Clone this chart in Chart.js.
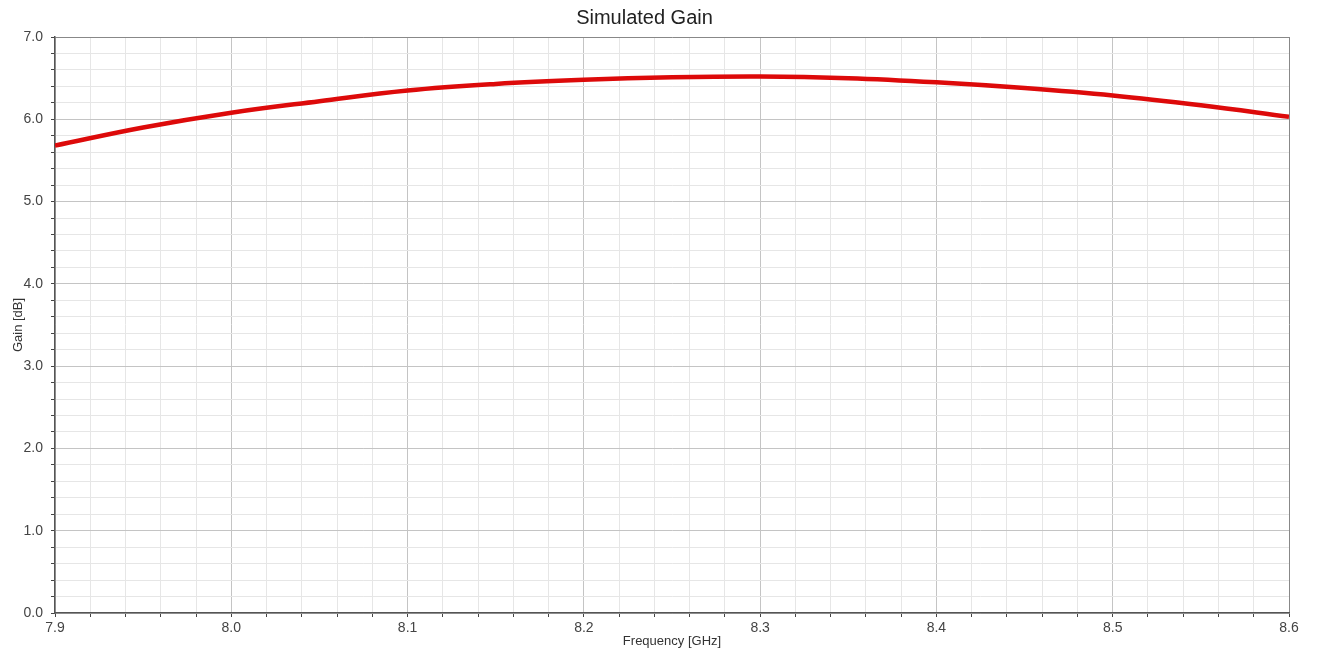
<!DOCTYPE html>
<html>
<head>
<meta charset="utf-8">
<script src="https://cdn.jsdelivr.net/npm/chart.js@4"></script>
<style>
  html, body { margin: 0; padding: 0; background: #fff; }
  #wrap { width: 1318px; height: 652px; }
</style>
</head>
<body>
<div id="wrap"><canvas id="gain-chart"></canvas></div>
<script>
// -------------- Data --------------
const freqGHz = [7.90, 7.95, 8.00, 8.05, 8.10, 8.15, 8.20, 8.25, 8.30, 8.35, 8.40, 8.45, 8.50, 8.55, 8.60];
const gainDb  = [5.68, 5.90, 6.08, 6.22, 6.35, 6.43, 6.48, 6.51, 6.52, 6.50, 6.45, 6.38, 6.29, 6.17, 6.03];

const xMin = 7.9, xMax = 8.6, xStep = 0.02;
const yMin = 0, yMax = 7, yStep = 0.2;

const isMajor = v => Math.abs(v * 10 - Math.round(v * 10)) < 1e-6;
const isMajorY = v => Math.abs(v - Math.round(v)) < 1e-6;

Chart.defaults.font.family = "'Liberation Sans', Arial, sans-serif";
Chart.defaults.color = '#444';

const gainCanvas = document.getElementById('gain-chart');

// build the point list from the two arrays
const gainData = {
    datasets: [{
        data: freqGHz.map((f, i) => ({ x: f, y: gainDb[i] })),
        borderColor: '#dd0a0a',
        borderWidth: 4.5,
        pointRadius: 0,
        tension: 0.4,
        fill: false
    }]
};

const gainOptions = {
    responsive: true,
    maintainAspectRatio: false,
    animation: false,
    layout: { padding: { left: 0, right: 29, top: 0, bottom: 0 } },
    plugins: {
        legend: { display: false },
        tooltip: { enabled: false },
        title: {
            display: true,
            text: 'Simulated Gain',
            color: '#222',
            font: { size: 20, weight: 'normal' },
            padding: { top: 6, bottom: 7 }
        }
    },
    scales: {
        x: {
            type: 'linear',
            min: xMin,
            max: xMax,
            afterFit: s => { s.height = 39; },
            ticks: {
                stepSize: xStep,
                autoSkip: false,
                maxRotation: 0,
                padding: 3,
                color: '#444',
                font: { size: 14 },
                callback: v => isMajor(v) ? v.toFixed(1) : ''
            },
            grid: {
                color: c => (Math.abs(c.tick.value - xMax) < 1e-6) ? '#888' : (isMajor(c.tick.value) ? '#c4c4c4' : '#e6e6e6'),
                tickColor: '#444',
                tickLength: 4
            },
            border: { color: '#555', width: 1.5 },
            title: {
                display: true,
                text: 'Frequency [GHz]',
                color: '#333',
                font: { size: 13 },
                padding: { top: 0, bottom: 3 }
            }
        },
        y: {
            min: yMin,
            max: yMax,
            afterFit: s => { s.width = 55; },
            ticks: {
                stepSize: yStep,
                autoSkip: false,
                padding: 8,
                color: '#444',
                font: { size: 14 },
                callback: v => isMajorY(v) ? v.toFixed(1) : ''
            },
            grid: {
                color: c => (Math.abs(c.tick.value - yMax) < 1e-6) ? '#888' : (isMajorY(c.tick.value) ? '#c4c4c4' : '#e6e6e6'),
                tickColor: '#444',
                tickLength: 4
            },
            border: { color: '#555', width: 1.5 },
            title: {
                display: true,
                text: 'Gain [dB]',
                color: '#333',
                font: { size: 13 },
                padding: { top: 11, bottom: 0 }
            }
        }
    }
};

const gainChart = new Chart(gainCanvas, {
    type: 'line',
    data: gainData,
    options: gainOptions
});
</script>
</body>
</html>
